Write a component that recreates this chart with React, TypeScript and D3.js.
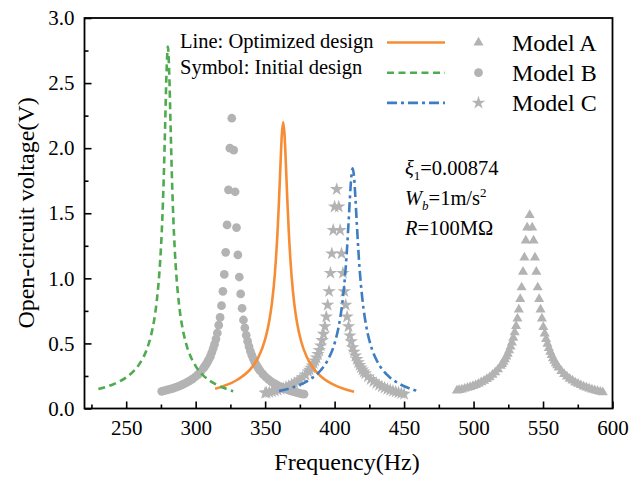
import React, { useEffect, useRef } from 'react'
import * as d3 from 'd3'

const freqTicks = [250, 300, 350, 400, 450, 500, 550, 600]
const freqMinor = [225, 275, 325, 375, 425, 475, 525, 575]
const voltTicks = [0, 0.5, 1, 1.5, 2, 2.5, 3]
const voltMinor = [0.25, 0.75, 1.25, 1.75, 2.25, 2.75]
const models = ['Model A', 'Model B', 'Model C']
const notes = ['Line: Optimized design', 'Symbol: Initial design']

// optimized design, drawn as lines  [frequency Hz, voltage V]
const lineA: [number, number][] = [
  [314, 0.152], [320, 0.172], [330, 0.221], [340, 0.31], [345, 0.391], [350, 0.531],
  [353, 0.674], [355, 0.819], [357, 1.035], [359, 1.372], [360, 1.602], [361, 1.862],
  [362, 2.099], [363, 2.2], [364, 2.098], [365, 1.86], [366, 1.595], [367, 1.364],
  [369, 1.022], [371, 0.802], [373, 0.657], [376, 0.513], [380, 0.395], [385, 0.305],
  [390, 0.248], [395, 0.208], [400, 0.179], [407, 0.149], [414, 0.128],
]
const lineB: [number, number][] = [
  [230, 0.149], [240, 0.183], [250, 0.239], [255, 0.283], [260, 0.35], [265, 0.459],
  [268, 0.567], [270, 0.671], [272, 0.825], [274, 1.06], [275, 1.23], [276, 1.455],
  [277, 1.762], [278, 2.16], [279, 2.57], [280, 2.78], [281, 2.57], [282, 2.15],
  [283, 1.75], [284, 1.443], [285, 1.213], [286, 1.04], [288, 0.803], [290, 0.65],
  [293, 0.503], [296, 0.409], [300, 0.326], [305, 0.259], [310, 0.215], [315, 0.183],
  [320, 0.159], [327, 0.133],
]
const lineC: [number, number][] = [
  [360, 0.134], [370, 0.163], [380, 0.209], [390, 0.294], [395, 0.371], [400, 0.501],
  [403, 0.633], [405, 0.765], [407, 0.956], [409, 1.239], [410, 1.421], [411, 1.614],
  [412, 1.778], [413, 1.845], [414, 1.778], [415, 1.613], [416, 1.417], [418, 1.071],
  [420, 0.84], [423, 0.619], [426, 0.486], [430, 0.376], [435, 0.291], [440, 0.237],
  [445, 0.199], [450, 0.171], [455, 0.15], [461, 0.131],
]

// initial design, drawn as symbols
const symA: [number, number][] = [
  [488, 0.137], [489.6, 0.141], [491.6, 0.146], [493.6, 0.152], [495.6, 0.158], [497.6, 0.165],
  [499.6, 0.173], [501.6, 0.18], [503.6, 0.19], [505.6, 0.201], [507.6, 0.213], [509.6, 0.226],
  [511.6, 0.24], [513.6, 0.258], [515.6, 0.277], [517.6, 0.3], [519.6, 0.327], [520.6, 0.342],
  [521.6, 0.359], [522.6, 0.377], [523.6, 0.398], [524.6, 0.42], [525.6, 0.446], [526.6, 0.475],
  [527.6, 0.507], [528.6, 0.543], [529.6, 0.585], [530.6, 0.634], [531.6, 0.69], [532.6, 0.76],
  [533.6, 0.84], [534.6, 0.93], [535.6, 1.05], [536.6, 1.16], [537.6, 1.29], [538.6, 1.39],
  [540.4, 1.486],
  [542.2, 1.39], [543.2, 1.29], [544.2, 1.16], [545.2, 1.05], [546.2, 0.93], [547.2, 0.84],
  [548.2, 0.76], [549.2, 0.69], [550.2, 0.625], [551.2, 0.576], [552.2, 0.533], [553.2, 0.496],
  [554.2, 0.464], [555.2, 0.435], [556.2, 0.41], [557.2, 0.386], [558.2, 0.366], [559.2, 0.347],
  [560.2, 0.331], [561.2, 0.315], [563.2, 0.288], [565.2, 0.265], [567.2, 0.245], [569.2, 0.228],
  [571.2, 0.214], [573.2, 0.2], [575.2, 0.189], [577.2, 0.179], [579.2, 0.169], [581.2, 0.161],
  [583.2, 0.153], [585.2, 0.146], [587.2, 0.14], [589.2, 0.134], [591.2, 0.128], [593, 0.124],
]
const symB: [number, number][] = [
  [275.6, 0.132], [277.6, 0.137], [279.6, 0.143], [281.6, 0.149], [283.6, 0.155], [285.6, 0.162],
  [287.6, 0.17], [289.6, 0.179], [291.6, 0.189], [293.6, 0.2], [295.6, 0.212], [297.6, 0.226],
  [299.6, 0.242], [301.6, 0.26], [303.6, 0.283], [305.6, 0.31], [306.6, 0.325], [307.6, 0.34],
  [308.6, 0.36], [309.6, 0.38], [310.6, 0.4], [311.6, 0.43], [312.6, 0.46], [313.6, 0.493],
  [314.6, 0.533], [315.6, 0.58], [316.6, 0.64], [317.6, 0.7], [318.6, 0.79], [319.6, 0.9],
  [320.6, 1.03], [321.6, 1.2], [322.6, 1.41], [323.6, 1.68], [324.6, 2.0], [326, 2.23],
  [327.4, 1.985], [328.4, 1.665], [329.4, 1.39], [330.4, 1.18], [331.4, 1.01], [332.4, 0.88],
  [333.4, 0.77], [334.4, 0.68], [335.4, 0.62], [336.4, 0.563], [337.4, 0.516], [338.4, 0.476],
  [339.4, 0.44], [340.4, 0.41], [341.4, 0.384], [342.4, 0.36], [343.4, 0.34], [344.4, 0.322],
  [345.4, 0.305], [346.4, 0.29], [348.4, 0.264], [350.4, 0.242], [352.4, 0.223], [354.4, 0.207],
  [356.4, 0.193], [358.4, 0.181], [360.4, 0.17], [362.4, 0.16], [364.4, 0.151], [366.4, 0.143],
  [368.4, 0.136], [370.4, 0.13], [372.4, 0.124], [374.4, 0.118], [376.4, 0.113], [378, 0.11],
]
const symC: [number, number][] = [
  [350, 0.12], [351, 0.121], [353, 0.125], [355, 0.13], [357, 0.136], [359, 0.142],
  [361, 0.149], [363, 0.156], [365, 0.164], [367, 0.173], [369, 0.183], [371, 0.194],
  [373, 0.206], [375, 0.221], [377, 0.239], [379, 0.259], [381, 0.283], [382, 0.297],
  [383, 0.312], [384, 0.328], [385, 0.347], [386, 0.367], [387, 0.39], [388, 0.417],
  [389, 0.448], [390, 0.483], [391, 0.524], [392, 0.572], [393, 0.63], [394, 0.705],
  [395, 0.795], [396, 0.9], [397, 1.04], [398, 1.19], [399, 1.37], [400, 1.55],
  [401.5, 1.684],
  [403, 1.55], [404, 1.37], [405, 1.19], [406, 1.04], [407, 0.9], [408, 0.795],
  [409, 0.705], [410, 0.63], [411, 0.56], [412, 0.515], [413, 0.47], [414, 0.435],
  [415, 0.405], [416, 0.378], [417, 0.354], [418, 0.333], [419, 0.314], [420, 0.298],
  [421, 0.283], [422, 0.269], [424, 0.245], [426, 0.225], [428, 0.208], [430, 0.193],
  [432, 0.18], [434, 0.169], [436, 0.159], [438, 0.15], [440, 0.142], [442, 0.134],
  [444, 0.128], [446, 0.122], [448, 0.116], [450, 0.111],
]

const W = 632
const H = 481
const x = d3.scaleLinear().domain([220, 600]).range([84.5, 612.5])
const y = d3.scaleLinear().domain([0, 3]).range([408.5, 18])

const serif = '"Liberation Serif", "Times New Roman", serif'
const gray = '#b3b3b3'

const series = [
  { name: models[0], line: lineA, sym: symA, color: '#f68d35', dash: null, shape: d3.symbolTriangle, size: 44 },
  { name: models[1], line: lineB, sym: symB, color: '#4fab4f', dash: '7,4.5', shape: d3.symbolCircle, size: 60 },
  { name: models[2], line: lineC, sym: symC, color: '#3f7dc2', dash: '10,4,3,4', shape: d3.symbolStar, size: 56 },
]

const App = () => {
  const ref = useRef<SVGSVGElement>(null)

  useEffect(() => {
    const svg = d3.select(ref.current)
    svg.selectAll('*').remove()
    svg.style('font-family', serif)

    // symbols
    series.forEach((s) => {
      const sym = d3.symbol().type(s.shape).size(s.size)
      svg
        .append('g')
        .selectAll('path')
        .data(s.sym)
        .join('path')
        .attr('d', sym)
        .attr('fill', gray)
        .attr('transform', (d) => `translate(${x(d[0])},${y(d[1])})`)
    })

    // lines
    const line = d3
      .line<[number, number]>()
      .x((d) => x(d[0]))
      .y((d) => y(d[1]))
      .curve(d3.curveMonotoneX)
    series.forEach((s) => {
      svg
        .append('path')
        .attr('d', line(s.line))
        .attr('fill', 'none')
        .attr('stroke', s.color)
        .attr('stroke-width', 2.6)
        .attr('stroke-dasharray', s.dash)
    })

    // axes
    const bottom = svg.append('g').attr('transform', `translate(0,${y(0)})`)
    bottom
      .call(d3.axisBottom(x).tickValues(freqTicks).tickSize(-7).tickPadding(12))
      .call((g) => g.select('.domain').remove())
    bottom
      .append('g')
      .call(d3.axisBottom(x).tickValues(freqMinor).tickSize(-4).tickFormat(() => ''))
      .call((g) => g.select('.domain').remove())
    const left = svg.append('g').attr('transform', `translate(${x(220)},0)`)
    left
      .call(d3.axisLeft(y).tickValues(voltTicks).tickSize(-7).tickPadding(10).tickFormat(d3.format('.1f')))
      .call((g) => g.select('.domain').remove())
    left
      .append('g')
      .call(d3.axisLeft(y).tickValues(voltMinor).tickSize(-4).tickFormat(() => ''))
      .call((g) => g.select('.domain').remove())
    svg.selectAll('.tick line').attr('stroke', '#000').attr('stroke-width', 1.6)
    svg
      .selectAll('.tick text')
      .attr('font-family', serif)
      .attr('font-size', 21)
      .attr('fill', '#000')

    svg
      .append('rect')
      .attr('x', x(220))
      .attr('y', y(3))
      .attr('width', x(600) - x(220))
      .attr('height', y(0) - y(3))
      .attr('fill', 'none')
      .attr('stroke', '#000')
      .attr('stroke-width', 1.8)

    svg
      .append('text')
      .attr('x', 347)
      .attr('y', 470)
      .attr('text-anchor', 'middle')
      .attr('font-size', 24)
      .text('Frequency(Hz)')
    svg
      .append('text')
      .attr('transform', 'translate(34,213) rotate(-90)')
      .attr('text-anchor', 'middle')
      .attr('font-size', 24)
      .text('Open-circuit voltage(V)')

    // legend
    notes.forEach((t, i) => {
      svg
        .append('text')
        .attr('x', 180)
        .attr('y', 47.5 + i * 26)
        .attr('font-size', 20.5)
        .text(t)
    })
    series.forEach((s, i) => {
      const ly = 42.5 + i * 30.2
      svg
        .append('line')
        .attr('x1', 387)
        .attr('x2', 445)
        .attr('y1', ly)
        .attr('y2', ly)
        .attr('stroke', s.color)
        .attr('stroke-width', 2.6)
        .attr('stroke-dasharray', s.dash)
      svg
        .append('path')
        .attr('d', d3.symbol().type(s.shape).size(s.size)())
        .attr('fill', gray)
        .attr('transform', `translate(478.5,${ly})`)
      svg
        .append('text')
        .attr('x', 512)
        .attr('y', ly + 8.5)
        .attr('font-size', 24)
        .text(s.name)
    })

    // parameters
    const p = svg.append('g').attr('font-size', 20.5)
    const t1 = p.append('text').attr('x', 405).attr('y', 175)
    t1.append('tspan').attr('font-style', 'italic').text('ξ')
    t1.append('tspan').attr('font-size', 13).attr('dy', 5).text('1')
    t1.append('tspan').attr('dy', -5).text('=0.00874')
    const t2 = p.append('text').attr('x', 405).attr('y', 205)
    t2.append('tspan').attr('font-style', 'italic').text('W')
    t2.append('tspan').attr('font-style', 'italic').attr('font-size', 13).attr('dy', 5).text('b')
    t2.append('tspan').attr('dy', -5).text('=1m/s')
    t2.append('tspan').attr('font-size', 13).attr('dy', -8).text('2')
    const t3 = p.append('text').attr('x', 405).attr('y', 235)
    t3.append('tspan').attr('font-style', 'italic').text('R')
    t3.append('tspan').text('=100MΩ')
  }, [])

  return (
    <svg
      ref={ref}
      width={W}
      height={H}
      style={{ position: 'absolute', left: 0, top: 0, background: '#fff' }}
    />
  )
}

export default App
